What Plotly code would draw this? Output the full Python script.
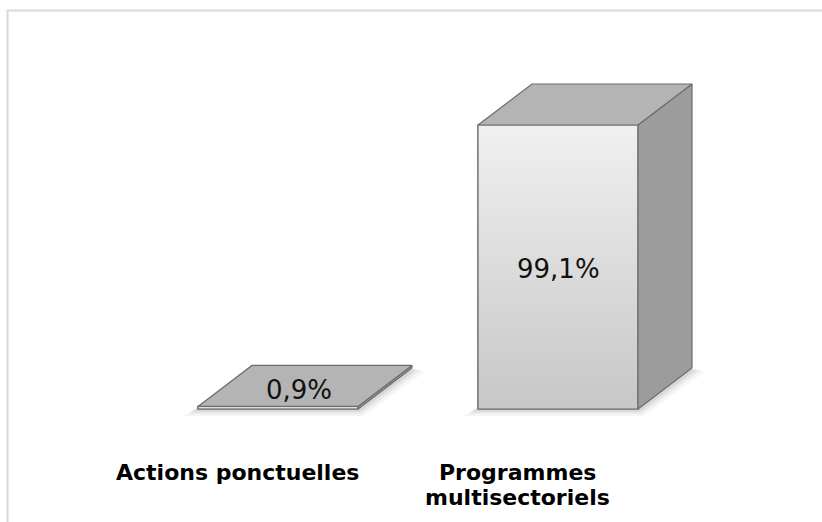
import plotly.graph_objects as go

# ---- data ----
categories = ["Actions ponctuelles", "Programmes multisectoriels"]
label_lines = [["Actions ponctuelles"], ["Programmes", "multisectoriels"]]
values = [0.9, 99.1]

# ---- layout constants (pixel geometry of the reference) ----
W_PX, H_PX = 822, 522
X0_PX = 278          # pixel of category 0 centre
STEP_PX = 280        # pixels per category
FLOOR_PX = 409       # pixel row of value 0
PPU_Y = 284 / 99.1   # pixels per percent
BAR_W = 160 / STEP_PX
DX = 54 / STEP_PX
DY = 41 / PPU_Y

xr = [-X0_PX / STEP_PX, (W_PX - X0_PX) / STEP_PX]
yr = [-(H_PX - FLOOR_PX) / PPU_Y, FLOOR_PX / PPU_Y]

EDGE = "#6c6c6c"
fig = go.Figure()

xs = list(range(len(values)))

# soft floor shadows
for i, v in zip(xs, values):
    for k, op in [(14, 0.05), (9, 0.07), (5, 0.09)]:
        ex = k / STEP_PX
        ey = k / PPU_Y
        px_ = [i - BAR_W / 2 - ex, i + BAR_W / 2 + ex * 0.4, i + BAR_W / 2 + DX + ex, i - BAR_W / 2 + DX, i - BAR_W / 2 - ex]
        py_ = [-ey * 0.5, -ey * 0.5, DY - ey * 0.2, DY, -ey * 0.5]
        fig.add_trace(go.Scatter(x=px_, y=py_, fill="toself", mode="none",
                                 fillcolor=f"rgba(60,60,60,{op})", hoverinfo="skip"))

# front faces as bars
fig.add_trace(go.Bar(x=xs, y=values, width=BAR_W,
                     marker=dict(color="#dddddd", line=dict(color=EDGE, width=1.2)),
                     hoverinfo="skip"))

for i, v in zip(xs, values):
    l, r = i - BAR_W / 2, i + BAR_W / 2
    # front gradient
    fig.add_trace(go.Scatter(
        x=[l, r, r, l, l], y=[0, 0, v, v, 0], fill="toself", mode="lines",
        line=dict(color=EDGE, width=1.2),
        fillgradient=dict(type="vertical", colorscale=[[0, "#c7c7c7"], [1, "#f0f0f0"]]),
        hoverinfo="skip"))
    # side face
    fig.add_trace(go.Scatter(
        x=[r, r + DX, r + DX, r, r], y=[0, DY, v + DY, v, 0], fill="toself", mode="lines",
        line=dict(color=EDGE, width=1.2), fillcolor="#9c9c9c", hoverinfo="skip"))
    # top face
    fig.add_trace(go.Scatter(
        x=[l, r, r + DX, l + DX, l], y=[v, v, v + DY, v + DY, v], fill="toself", mode="lines",
        line=dict(color=EDGE, width=1.2), fillcolor="#b4b4b4", hoverinfo="skip"))

annotations = []
# value labels
for i, v in zip(xs, values):
    txt = f"{v:.1f}".replace(".", ",") + "%"
    if v < 10:
        ax, ay, xs_, ys_ = i + DX / 2, v + DY / 2, -6, -4
    else:
        ax, ay, xs_, ys_ = i, v / 2, 0, -2
    annotations.append(dict(x=ax, y=ay, xref="x", yref="y", text=txt, showarrow=False,
                            xshift=xs_, yshift=ys_,
                            font=dict(family="DejaVu Sans", size=26, color="#111111")))

# category labels
LINE_PX = 26
for i, lines in zip(xs, label_lines):
    for j, line in enumerate(lines):
        ypx = 472 + j * LINE_PX
        annotations.append(dict(x=i, y=1 - ypx / H_PX, xref="x", yref="paper", text=line,
                                showarrow=False, xshift=-41, yanchor="middle",
                                font=dict(family="DejaVu Sans", size=22, color="#000000",
                                          weight="bold")))

fig.update_layout(
    width=W_PX, height=H_PX,
    margin=dict(l=0, r=0, t=0, b=0),
    paper_bgcolor="white", plot_bgcolor="white",
    showlegend=False,
    hovermode=False,
    xaxis=dict(range=xr, visible=False, fixedrange=True),
    yaxis=dict(range=yr, visible=False, fixedrange=True),
    annotations=annotations,
    shapes=[dict(type="rect", xref="paper", yref="paper",
                 x0=7.5 / W_PX, x1=1.1, y0=-0.1, y1=1 - 10.5 / H_PX,
                 line=dict(color="#d9d9d9", width=2), layer="below")],
)

fig.write_html("out.html", config={"displayModeBar": False, "staticPlot": True},
               post_script="document.body.style.margin='0';document.body.style.overflow='hidden';")
